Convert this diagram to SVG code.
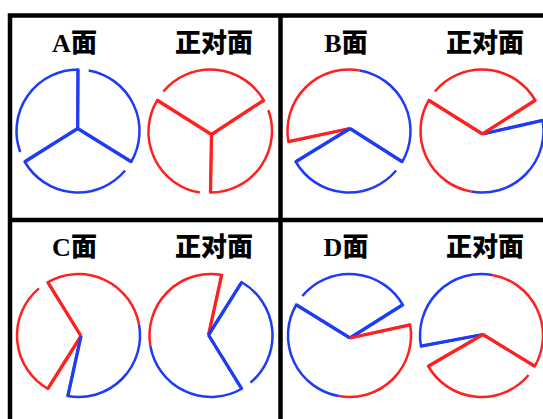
<svg xmlns="http://www.w3.org/2000/svg" width="543" height="419" viewBox="0 0 543 419">
<style>
.frame{fill:none;stroke:#000;stroke-width:4.5}
.t{font-family:"Liberation Serif","Noto Sans CJK SC",serif;font-weight:900;font-size:26px;fill:#000;text-anchor:middle}
.p{fill:none;stroke-width:2.5;stroke-linejoin:miter;stroke-linecap:butt}
.s{fill:none;stroke-width:3.3;stroke-linecap:butt}
.b{stroke:#1e3cf5}
.r{stroke:#ff2020}
</style>
<rect width="543" height="419" fill="#fff"/>
<g id="frame">
<rect class="frame" x="10" y="15.5" width="620" height="500"/>
<line class="frame" x1="280.5" y1="15" x2="280.5" y2="419"/>
<line class="frame" x1="10" y1="220" x2="543" y2="220"/>
</g>
<g id="labels">
<text class="t" x="74.5" y="52">A面</text>
<text class="t" x="214" y="52">正对面</text>
<text class="t" x="346" y="52">B面</text>
<text class="t" x="485" y="52">正对面</text>
<text class="t" x="74.5" y="256">C面</text>
<text class="t" x="214" y="256">正对面</text>
<text class="t" x="346" y="256">D面</text>
<text class="t" x="485" y="256">正对面</text>
</g>
<g id="faceA">
<path class="p b" d="M77.7 128.5 L78 69.5 A61.5 61.5 0 0 0 20.21 152.03"/>
<path class="p b" d="M77.7 128.5 L24.74 161.75 A61.5 61.5 0 0 0 125.11 170.53"/>
<path class="p b" d="M77.7 128.5 L131.26 161.75 A61.5 61.5 0 0 0 88.68 70.43"/>
<path class="s b" d="M77.7 128.5 L78 69.5 M77.7 128.5 L24.74 161.75 M77.7 128.5 L131.26 161.75"/>
</g>
<g id="faceA-opposite">
<path class="p r" d="M211.5 134.5 L210.5 192.5 A61.5 61.5 0 0 0 268.29 109.97"/>
<path class="p r" d="M211.5 134.5 L263.76 100.25 A61.5 61.5 0 0 0 163.39 91.47"/>
<path class="p r" d="M211.5 134.5 L157.24 100.25 A61.5 61.5 0 0 0 199.82 192.57"/>
<path class="s r" d="M211.5 134.5 L210.5 192.5 M211.5 134.5 L263.76 100.25 M211.5 134.5 L157.24 100.25"/>
</g>
<g id="faceB">
<path class="p r" d="M350 128.5 L288.43 141.68 A61.5 61.5 0 0 1 359.68 70.43"/>
<path class="p b" d="M350 128.5 L295.74 161.75 A61.5 61.5 0 0 0 396.11 170.53"/>
<path class="p b" d="M350 128.5 L402.26 161.75 A61.5 61.5 0 0 0 359.68 70.43"/>
<path class="s r" d="M350 128.5 L288.43 141.68"/>
<path class="s b" d="M350 128.5 L295.74 161.75 M350 128.5 L402.26 161.75"/>
</g>
<g id="faceB-opposite">
<path class="p b" d="M482.5 134 L542.57 120.32 A61.5 61.5 0 0 1 471.32 191.57"/>
<path class="p r" d="M482.5 134 L535.26 100.25 A61.5 61.5 0 0 0 434.89 91.47"/>
<path class="p r" d="M482.5 134 L428.74 100.25 A61.5 61.5 0 0 0 471.32 191.57"/>
<path class="s b" d="M482.5 134 L542.57 120.32"/>
<path class="s r" d="M482.5 134 L535.26 100.25 M482.5 134 L428.74 100.25"/>
</g>
<g id="faceC">
<path class="p r" d="M81 336 L47.75 282.24 A61.5 61.5 0 0 1 139.07 324.82"/>
<path class="p b" d="M81 336 L67.82 396.07 A61.5 61.5 0 0 0 139.07 324.82"/>
<path class="p r" d="M81 336 L47.75 388.76 A61.5 61.5 0 0 1 38.97 288.39"/>
<path class="s r" d="M81 336 L47.75 282.24 M81 336 L47.75 388.76"/>
<path class="s b" d="M81 336 L67.82 396.07"/>
</g>
<g id="faceC-opposite">
<path class="p r" d="M208.5 335 L221.68 274.93 A61.5 61.5 0 0 0 150.43 346.18"/>
<path class="p b" d="M208.5 335 L241.75 388.76 A61.5 61.5 0 0 1 150.43 346.18"/>
<path class="p b" d="M208.5 335 L241.75 282.24 A61.5 61.5 0 0 1 250.53 382.61"/>
<path class="s r" d="M208.5 335 L221.68 274.93"/>
<path class="s b" d="M208.5 335 L241.75 388.76 M208.5 335 L241.75 282.24"/>
</g>
<g id="faceD">
<path class="p b" d="M350 338 L296.24 304.75 A61.5 61.5 0 0 0 338.82 396.07"/>
<path class="p r" d="M350 338 L410.07 324.82 A61.5 61.5 0 0 1 338.82 396.07"/>
<path class="p b" d="M350 338 L402.76 304.75 A61.5 61.5 0 0 0 302.39 295.97"/>
<path class="s b" d="M350 338 L296.24 304.75 M350 338 L402.76 304.75"/>
<path class="s r" d="M350 338 L410.07 324.82"/>
</g>
<g id="faceD-opposite">
<path class="p b" d="M483 334.5 L420.93 346.18 A61.5 61.5 0 0 1 492.18 274.93"/>
<path class="p r" d="M483 334.5 L534.76 366.25 A61.5 61.5 0 0 0 492.18 274.93"/>
<path class="p r" d="M483 334.5 L428.24 366.25 A61.5 61.5 0 0 0 528.61 375.03"/>
<path class="s b" d="M483 334.5 L420.93 346.18"/>
<path class="s r" d="M483 334.5 L534.76 366.25 M483 334.5 L428.24 366.25"/>
</g>
</svg>
